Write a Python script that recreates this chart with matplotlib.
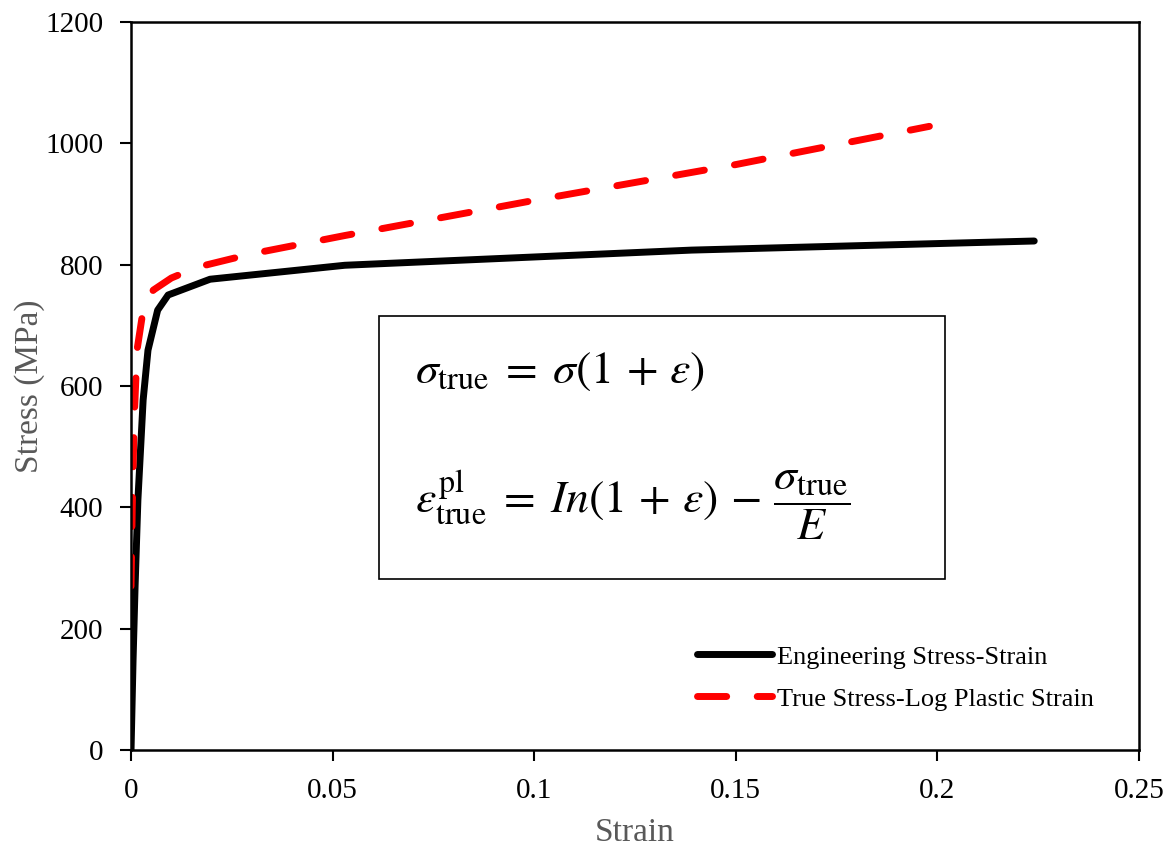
import matplotlib
matplotlib.use("Agg")
import matplotlib.pyplot as plt
from matplotlib.patches import Rectangle

plt.rcParams['font.family'] = ['Liberation Serif', 'DejaVu Serif']
plt.rcParams['mathtext.fontset'] = 'stix'

# Data
eng_strain = [0, 0.0005, 0.001, 0.0017, 0.003, 0.0042, 0.0066, 0.0092, 0.0196, 0.053, 0.139, 0.224]
eng_stress = [0, 148, 269, 412, 577, 659, 725, 750, 776, 799, 824, 839]

true_strain = [0, 0.0003, 0.0008, 0.0015, 0.003, 0.0055, 0.010, 0.0165, 0.03, 0.053, 0.1, 0.15, 0.198]
true_stress = [270, 400, 550, 660, 725, 758, 778, 796, 818, 848, 906, 965, 1028]

labels = ["Engineering Stress-Strain", "True Stress-Log Plastic Strain"]

x_ticks = [0, 0.05, 0.1, 0.15, 0.2, 0.25]
x_ticklabels = ["0", "0.05", "0.1", "0.15", "0.2", "0.25"]
y_ticks = [0, 200, 400, 600, 800, 1000, 1200]

fig = plt.figure(figsize=(11.69, 8.49), dpi=100)
ax = fig.add_axes([0.1121, 0.1166, 0.8623, 0.8575])

ax.plot(eng_strain, eng_stress, color='black', lw=5, solid_capstyle='round',
        solid_joinstyle='round', label=labels[0])
ax.plot(true_strain, true_stress, color='#ff0000', lw=5, dashes=(4.2, 4.4),
        dash_capstyle='round', label=labels[1])

ax.set_xlim(0, 0.25)
ax.set_ylim(0, 1200)
ax.set_xticks(x_ticks)
ax.set_xticklabels(x_ticklabels)
ax.set_yticks(y_ticks)
ax.tick_params(direction='out', length=8, width=1.5, labelsize=21, pad=12)
for sp in ax.spines.values():
    sp.set_linewidth(1.8)

ax.set_xlabel("Strain", fontsize=24, color='#595959', labelpad=10)
ax.set_ylabel("Stress (MPa)", fontsize=24, color='#595959', labelpad=0)

# equation box
ax.add_patch(Rectangle((0.246, 0.235), 0.5615, 0.361, transform=ax.transAxes,
                       fill=False, edgecolor='black', lw=1.2))
ax.text(0.2817, 0.519, r'$\sigma_{\mathrm{true}} \;=\; \sigma(1 \,+\, \varepsilon)$',
        transform=ax.transAxes, fontsize=33, ha='left', va='center')
ax.text(0.2817, 0.336,
        r'$\varepsilon_{\mathrm{true}}^{\mathrm{pl}} \;=\; In(1 \,+\, \varepsilon) \,-\, \dfrac{\sigma_{\mathrm{true}}}{E}$',
        transform=ax.transAxes, fontsize=33, ha='left', va='center')

ax.legend(loc='center left', bbox_to_anchor=(0.5615, 0.099), frameon=False,
          fontsize=19, handlelength=2.84, handletextpad=0.2, labelspacing=0.7,
          borderpad=0, borderaxespad=0)

fig.savefig("out.png", dpi=100)
